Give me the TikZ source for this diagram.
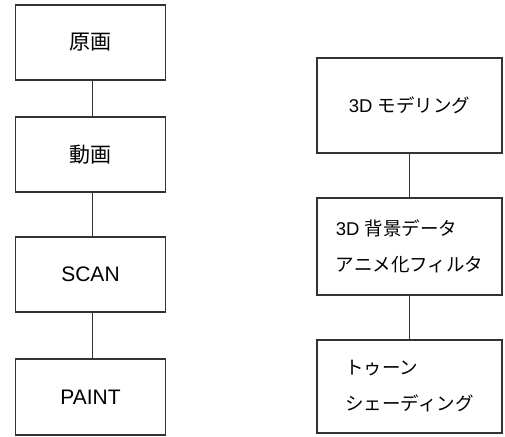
\documentclass[tikz,border=0pt]{standalone}
\usepackage{fontspec}
\setmainfont{Liberation Sans}
\newfontfamily\cjk{Noto Sans CJK JP}
\begin{document}
\begin{tikzpicture}[x=1pt,y=-1pt,
  box/.style={draw=black!80, line width=1.7pt, rectangle, inner sep=0pt, fill=white},
  lbox/.style={box, minimum width=150pt, minimum height=75pt, font=\fontsize{21}{25}\selectfont},
  rbox/.style={box, minimum width=185pt, align=left, font=\fontsize{18.5}{36}\selectfont},
  link/.style={draw=black!80, line width=1.7pt}]
\fill[white] (0,0) rectangle (505,436);
\useasboundingbox (0,0) rectangle (505,436);
% left column
\node[lbox] (a) at (90.5,42.5) {\cjk 原画};
\node[lbox] (b) at (90.5,154.5) {\cjk 動画};
\node[lbox] (c) at (90.5,274.5) {SCAN};
\node[lbox, minimum height=76pt] (d) at (90.5,397) {PAINT};
\draw[link] ([xshift=2pt]a.south) -- ([xshift=2pt]b.north);
\draw[link] ([xshift=2pt]b.south) -- ([xshift=2pt]c.north);
\draw[link] ([xshift=2pt]c.south) -- ([xshift=2pt]d.north);
% right column
\node[rbox, minimum height=95pt] (e) at (409.5,105.5) {3D {\cjk モデリング}};
\node[rbox, minimum height=97pt] (f) at (409.5,246.5) {3D {\cjk 背景データ}\\{\cjk アニメ化フィルタ}};
\node[rbox, minimum height=93pt] (g) at (409.5,386.5) {{\cjk トゥーン}\\{\cjk シェーディング}};
\draw[link] (e.south) -- (f.north);
\draw[link] (f.south) -- (g.north);
\end{tikzpicture}
\end{document}
